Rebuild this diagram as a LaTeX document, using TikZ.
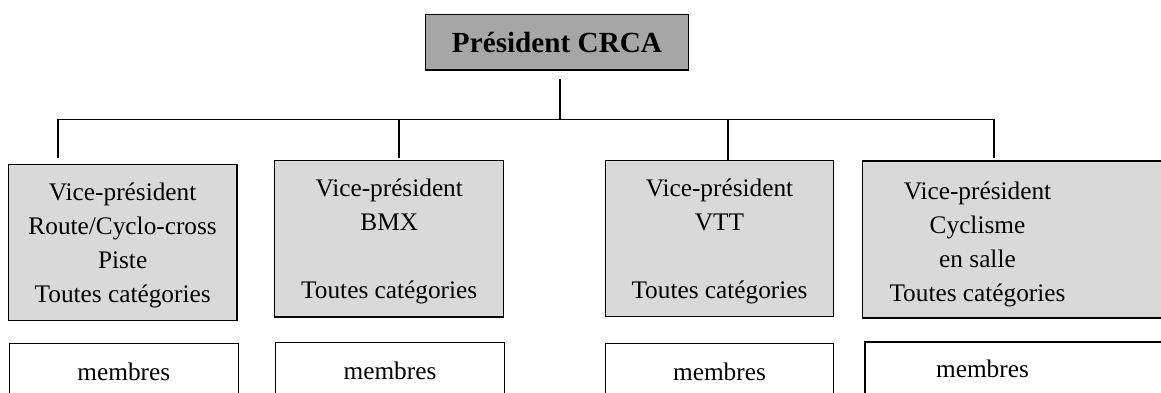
\documentclass[tikz,border=0pt]{standalone}
\usepackage{fontspec}
\setmainfont{Liberation Serif}
\definecolor{presgray}{RGB}{166,166,166}
\definecolor{vpgray}{RGB}{217,217,217}
\newcommand{\toppad}{\rule{0pt}{24pt}}
\begin{document}
\begin{tikzpicture}[x=1pt,y=-1pt,
  every node/.style={inner sep=0pt, outer sep=0pt},
  txt/.style={align=center, font=\fontsize{25.3}{34}\selectfont},
  box/.style={txt, draw=black, line width=1.4pt, rectangle},
  presbox/.style={box, fill=presgray, font=\fontsize{29.2}{34}\selectfont\bfseries},
  vpbox/.style={box, fill=vpgray},
  membox/.style={box, fill=white},
  link/.style={line width=1.6pt}]
\useasboundingbox (0,0) rectangle (1161,392);
\clip (0,0) rectangle (1161,392);

% president
\node[presbox, minimum width=262.6pt, minimum height=55.7pt] (pres) at (557,42.15) {Président CRCA};

% vice-presidents
\node[vpbox, minimum width=228.7pt, minimum height=156.4pt] (vp1) at (122.65,242.5)
  {\toppad Vice-président\\Route/Cyclo-cross\\Piste\\Toutes catégories};
\node[vpbox, minimum width=229pt, minimum height=156.7pt] (vp2) at (389.2,238.65)
  {\toppad Vice-président\\BMX\\[34pt]Toutes catégories};
\node[vpbox, minimum width=228.4pt, minimum height=156.4pt] (vp3) at (719.5,238.5)
  {\toppad Vice-président\\VTT\\[34pt]Toutes catégories};
\node[vpbox, minimum width=307.7pt, minimum height=157pt] (vp4) at (1016.15,239.5) {};
\node[txt] (vp4t) at (977.5,244) {Vice-président\\Cyclisme\\en salle\\Toutes catégories};

% members
\node[membox, minimum width=229pt, minimum height=55.4pt] (m1) at (123.8,371.4) {membres};
\node[membox, minimum width=229.4pt, minimum height=55.4pt] (m2) at (390,370.4) {membres};
\node[membox, minimum width=228.4pt, minimum height=55.4pt] (m3) at (719.5,371.4) {membres};
\node[membox, minimum width=305pt, minimum height=55.4pt] (m4) at (1017.5,369.7) {};
\node[txt, anchor=base] (m4t) at (982.5,377) {membres};

% connectors
\coordinate (presdrop) at (560,79);
\coordinate (bus) at (560,119.5);
\coordinate (bus1) at (58,119.5);
\coordinate (bus2) at (399,119.5);
\coordinate (bus3) at (728,119.5);
\coordinate (bus4) at (994,119.5);
\coordinate (end1) at (58,158);
\coordinate (end2) at (399,158);
\coordinate (end4) at (994,158);
\draw[link] (presdrop) -- (bus);
\draw[link] (end1) -- (bus1) -- (bus4) -- (end4);
\draw[link] (bus2) -- (end2);
\draw[link] (bus3) -- (bus3 |- vp3.north);
\end{tikzpicture}
\end{document}
